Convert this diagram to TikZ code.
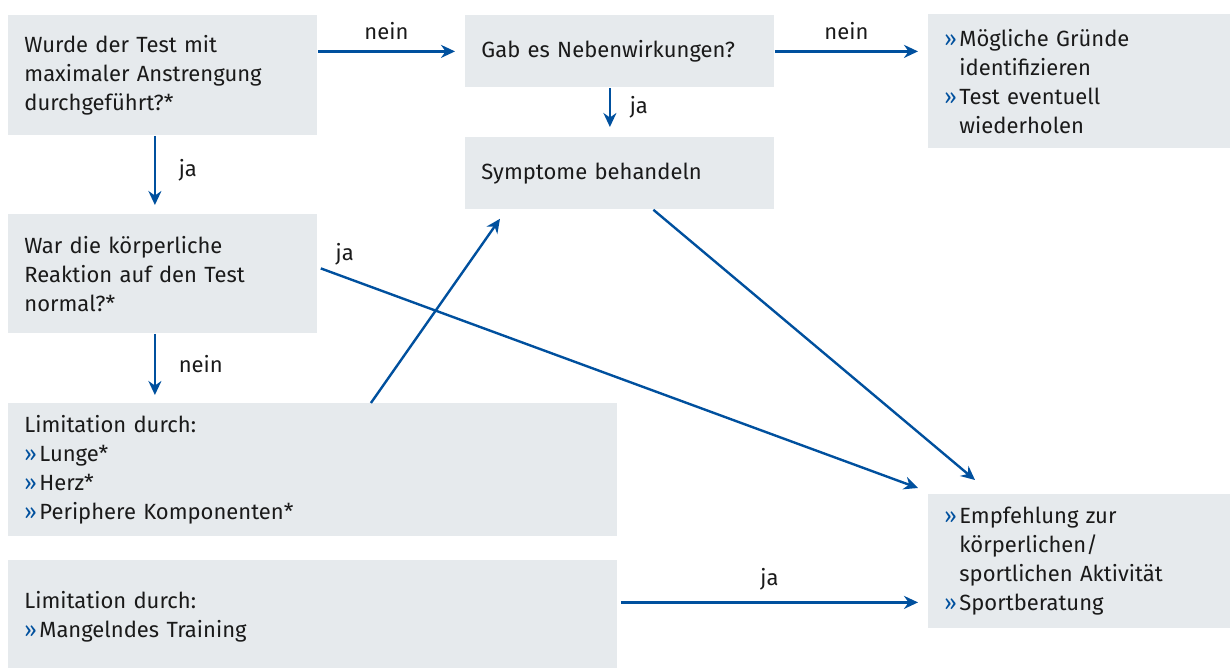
\documentclass[tikz,border=0pt]{standalone}
\usepackage{fontspec}
\setmainfont{Fira Sans}
\usepackage{xcolor}
\usepackage{tikz}
\usetikzlibrary{positioning,calc,arrows.meta}

\definecolor{boxgray}{RGB}{230,234,237}
\definecolor{flowblue}{RGB}{0,80,158}
\definecolor{textgray}{RGB}{26,26,26}

\newcommand{\bul}{\makebox[7.5pt][l]{\textcolor{flowblue}{»}}}
\newcommand{\ind}{\hspace*{7.5pt}}

\tikzset{
  box/.style={fill=boxgray, anchor=north west, inner xsep=8pt, inner ysep=2pt,
    align=left, text=textgray, font=\fontsize{11pt}{14.5pt}\selectfont},
  arr/.style={draw=flowblue, line width=1.2pt, -{Stealth[length=7pt,width=6.5pt]}},
  lbl/.style={text=textgray, font=\fontsize{11pt}{13pt}\selectfont}
}

\begin{document}
\begin{tikzpicture}[x=0.5pt,y=-0.5pt]
        \useasboundingbox (0,0) rectangle (1230,668);

        % boxes
        \node[box, text width=138.5pt, minimum height=60pt] (test) at (8,15)
            {Wurde der Test mit\\maximaler Anstrengung\\durchgeführt?*};
        \node[box, text width=138.5pt, minimum height=36pt] (neben) at (465,15)
            {Gab es Nebenwirkungen?};
        \node[box, text width=135pt, minimum height=67pt] (gruende) at (928,14)
            {\bul Mögliche Gründe\\\ind identifizieren\\\bul Test eventuell\\\ind wiederholen};
        \node[box, text width=138.5pt, minimum height=36pt] (sympt) at (465,137)
            {Symptome behandeln};
        \node[box, text width=138.5pt, minimum height=59.5pt] (reakt) at (8,214)
            {War die körperliche\\Reaktion auf den Test\\normal?*};
        \node[box, text width=288.5pt, minimum height=66.5pt] (limit) at (8,403)
            {Limitation durch:\\\bul Lunge*\\\bul Herz*\\\bul Periphere Komponenten*};
        \node[box, text width=288.5pt, minimum height=54pt] (train) at (8,560)
            {\\[-4pt]Limitation durch:\\\bul Mangelndes Training};
        \node[box, text width=135pt, minimum height=67pt] (empf) at (928,494)
            {\bul Empfehlung zur\\\ind körperlichen/\\\ind sportlichen Aktivität\\\bul Sportberatung};

        % arrows
        \draw[arr] (test.east |- neben.west) -- ([xshift=-5pt]neben.west)
            node[lbl, midway, above=2pt] {nein};
        \draw[arr] (neben.east) -- ([xshift=-5pt]gruende.west |- neben.east)
            node[lbl, midway, above=2pt] {nein};
        \draw[arr] ([xshift=-5pt]neben.south) -- ([xshift=-5pt,yshift=5pt]sympt.north)
            node[lbl, midway, right=6pt] {ja};
        \draw[arr] ([xshift=-4pt]test.south) -- ([xshift=-4pt,yshift=4.5pt]reakt.north)
            node[lbl, midway, right=8pt] {ja};
        \draw[arr] ([xshift=-4pt]reakt.south) coordinate (rs)
            -- ([yshift=4pt]rs |- limit.north)
            node[lbl, midway, right=8pt] {nein};
        \draw[arr] ([xshift=29pt]limit.north) -- ([xshift=17.5pt,yshift=-4.5pt]sympt.south west);
        \draw[arr] ([xshift=16.75pt]sympt.south) -- ([xshift=23.5pt,yshift=7pt]empf.north west);
        \draw[arr] ([xshift=1.5pt,yshift=2.75pt]reakt.east) -- ([xshift=-5pt,yshift=3pt]empf.north west)
            node[lbl, pos=0.04, above=2pt] {ja};
        \draw[arr] ([xshift=1.5pt,yshift=6pt]train.east) coordinate (tr)
            -- ([xshift=-5pt]empf.west |- tr)
            node[lbl, midway, above=2pt] {ja};
    \end{tikzpicture}
\end{document}
